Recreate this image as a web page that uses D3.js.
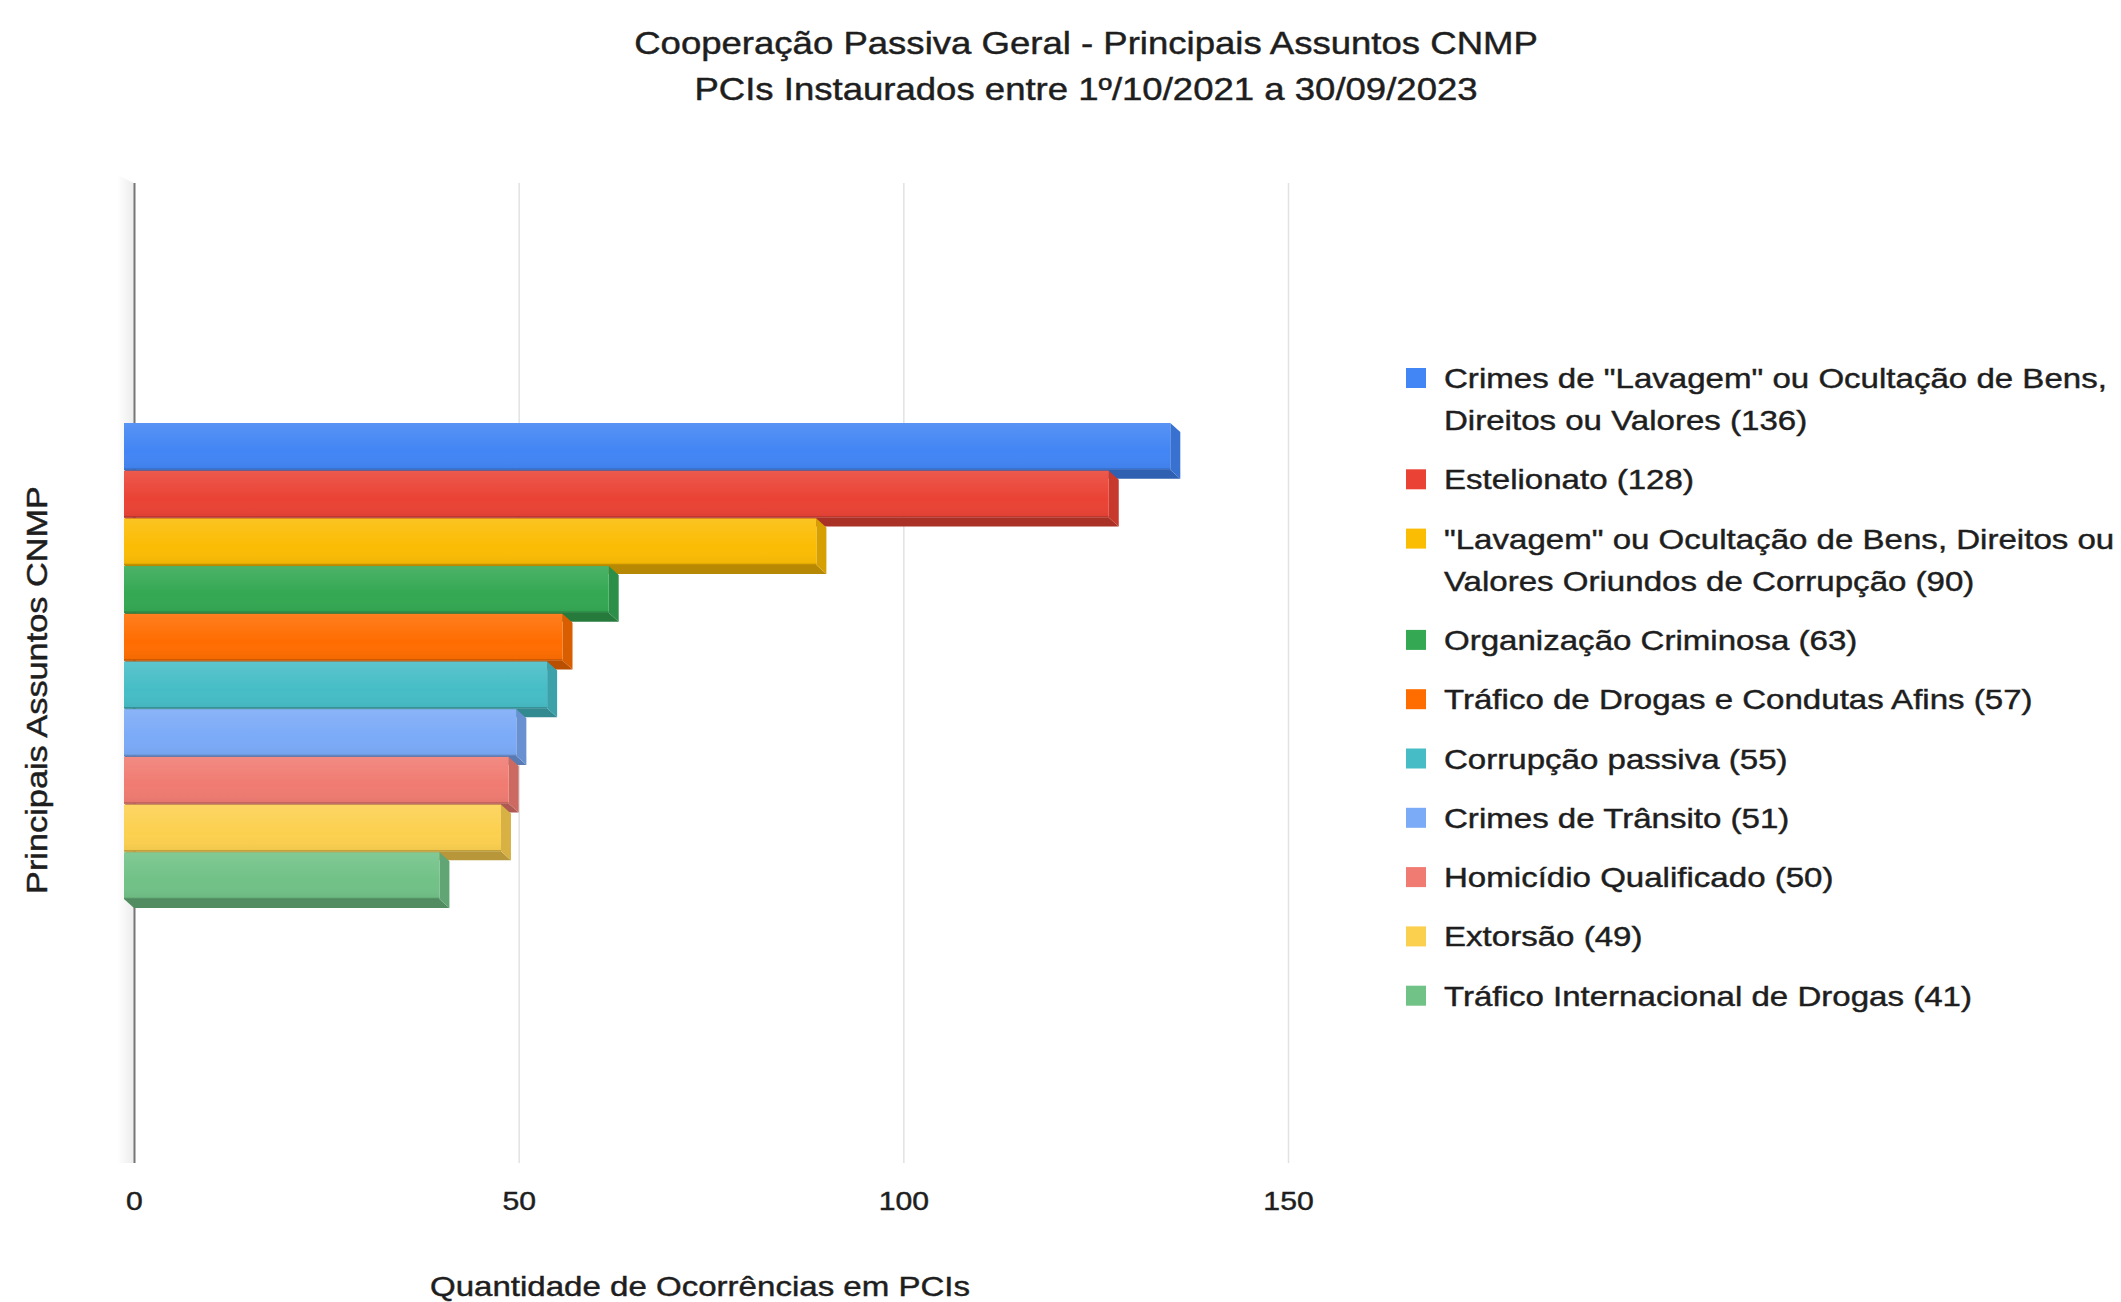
<!DOCTYPE html>
<html>
<head>
<meta charset="utf-8">
<script src="https://cdn.jsdelivr.net/npm/d3@7"></script>
<style>
  html, body { margin: 0; padding: 0; background: #ffffff; }
  svg { display: block; }
  text { font-family: "Liberation Sans", Arial, sans-serif; fill: #1e1e1e; stroke: #1e1e1e; stroke-width: 0.45px; }
</style>
</head>
<body>
<svg id="chart" width="2121" height="1302"></svg>
<script>
// ---- data ----
const categories = [
  "Crimes de \"Lavagem\" ou Ocultação de Bens, Direitos ou Valores",
  "Estelionato",
  "\"Lavagem\" ou Ocultação de Bens, Direitos ou Valores Oriundos de Corrupção",
  "Organização Criminosa",
  "Tráfico de Drogas e Condutas Afins",
  "Corrupção passiva",
  "Crimes de Trânsito",
  "Homicídio Qualificado",
  "Extorsão",
  "Tráfico Internacional de Drogas"
];
const values = [136, 128, 90, 63, 57, 55, 51, 50, 49, 41];
const legendLines = [
  ["Crimes de \"Lavagem\" ou Ocultação de Bens,", "Direitos ou Valores (136)"],
  ["Estelionato (128)"],
  ["\"Lavagem\" ou Ocultação de Bens, Direitos ou", "Valores Oriundos de Corrupção (90)"],
  ["Organização Criminosa (63)"],
  ["Tráfico de Drogas e Condutas Afins (57)"],
  ["Corrupção passiva (55)"],
  ["Crimes de Trânsito (51)"],
  ["Homicídio Qualificado (50)"],
  ["Extorsão (49)"],
  ["Tráfico Internacional de Drogas (41)"]
];
const colors = ["#4285F4", "#EA4335", "#FBBC04", "#34A853", "#FF6D01",
                "#46BDC6", "#7BAAF7", "#F07B72", "#FCD04F", "#71C287"];
const tickValues = [0, 50, 100, 150];
const titleLines = ["Cooperação Passiva Geral - Principais Assuntos CNMP",
                    "PCIs Instaurados entre 1º/10/2021 a 30/09/2023"];
const xTitle = "Quantidade de Ocorrências em PCIs";
const yTitle = "Principais Assuntos CNMP";

// ---- layout ----
const SX = 1.16;             // horizontal glyph stretch seen in the reference
const plotTop = 183, plotBottom = 1163;
const x = d3.scaleLinear().domain([0, 150]).range([134, 1288]);
const y = d3.scaleBand().domain(categories).range([423, 900]).padding(0);
const DX = 10, DY = 9;       // 3D depth offset

const svg = d3.select("#chart");
const defs = svg.append("defs");
const shine = defs.append("linearGradient").attr("id", "shine")
  .attr("x1", 0).attr("y1", 0).attr("x2", 0).attr("y2", 1);
shine.append("stop").attr("offset", "0%").attr("stop-color", "#fff").attr("stop-opacity", 0.12);
shine.append("stop").attr("offset", "60%").attr("stop-color", "#fff").attr("stop-opacity", 0.0);
shine.append("stop").attr("offset", "100%").attr("stop-color", "#000").attr("stop-opacity", 0.05);

const wallGrad = defs.append("linearGradient").attr("id", "wall")
  .attr("x1", 0).attr("y1", 0).attr("x2", 1).attr("y2", 0);
wallGrad.append("stop").attr("offset", "0%").attr("stop-color", "#ffffff");
wallGrad.append("stop").attr("offset", "100%").attr("stop-color", "#ececec");

// left 3D wall
svg.append("polygon")
  .attr("points", [[x(0) - 17, plotTop - 8], [x(0), plotTop], [x(0), plotBottom], [x(0) - 17, plotBottom]].map(p => p.join(",")).join(" "))
  .attr("fill", "url(#wall)");

// axis with gridlines
const axis = d3.axisBottom(x).tickValues(tickValues).tickSize(-(plotBottom - plotTop)).tickPadding(29);
const gAxis = svg.append("g").attr("transform", `translate(0,${plotBottom})`).call(axis);
gAxis.select(".domain").remove();
gAxis.selectAll(".tick line")
  .attr("stroke", d => d === 0 ? "#777777" : "#e2e2e2")
  .attr("stroke-width", d => d === 0 ? 2 : 1.5);
gAxis.selectAll(".tick text")
  .attr("font-size", 26)
  .attr("fill", "#1e1e1e")
  .attr("font-family", "Liberation Sans, Arial, sans-serif")
  .attr("transform", `scale(${SX},1)`);

// bars
const bars = svg.append("g");
values.forEach((v, i) => {
  const c = d3.color(colors[i]);
  const top = y(categories[i]);
  const bot = top + y.bandwidth() - 1;
  const fl = x(0) - DX, fr = x(v) - DX;
  const g = bars.append("g");
  // bottom face
  g.append("polygon")
    .attr("points", [[fl, bot], [fr, bot], [fr + DX, bot + DY], [fl + DX, bot + DY]].map(p => p.join(",")).join(" "))
    .attr("fill", c.darker(0.9));
  // right side face
  g.append("polygon")
    .attr("points", [[fr, top], [fr + DX, top + DY], [fr + DX, bot + DY], [fr, bot]].map(p => p.join(",")).join(" "))
    .attr("fill", c.darker(0.45));
  // front face
  g.append("rect")
    .attr("x", fl).attr("y", top).attr("width", fr - fl).attr("height", bot - top)
    .attr("fill", colors[i]);
  g.append("rect")
    .attr("x", fl).attr("y", top).attr("width", fr - fl).attr("height", bot - top)
    .attr("fill", "url(#shine)");
  g.append("line")
    .attr("x1", fl).attr("x2", fr).attr("y1", bot - 0.5).attr("y2", bot - 0.5)
    .attr("stroke", c.darker(1.2)).attr("stroke-width", 1.5).attr("opacity", 0.6);
});

// title
titleLines.forEach((t, i) => {
  svg.append("text")
    .attr("transform", `translate(1086,${54 + i * 46}) scale(${SX},1)`)
    .attr("text-anchor", "middle")
    .attr("font-size", 31.5)
    .text(t);
});

// axis titles
svg.append("text")
  .attr("transform", `translate(700,1296) scale(${SX},1)`)
  .attr("text-anchor", "middle")
  .attr("font-size", 28.5)
  .text(xTitle);
svg.append("text")
  .attr("transform", `translate(47,690) rotate(-90) scale(${SX * 1.02},1)`)
  .attr("text-anchor", "middle")
  .attr("font-size", 29)
  .text(yTitle);

// legend
const legend = svg.append("g");
let ly = 378;
legendLines.forEach((lines, i) => {
  legend.append("rect")
    .attr("x", 1406).attr("y", ly - 10).attr("width", 20).attr("height", 20)
    .attr("fill", colors[i]);
  lines.forEach((ln, j) => {
    legend.append("text")
      .attr("transform", `translate(1444,${ly + 10 + j * 42}) scale(${SX},1)`)
      .attr("font-size", 28.5)
      .text(ln);
  });
  ly += (lines.length - 1) * 42 + 59.3;
});
</script>
</body>
</html>
